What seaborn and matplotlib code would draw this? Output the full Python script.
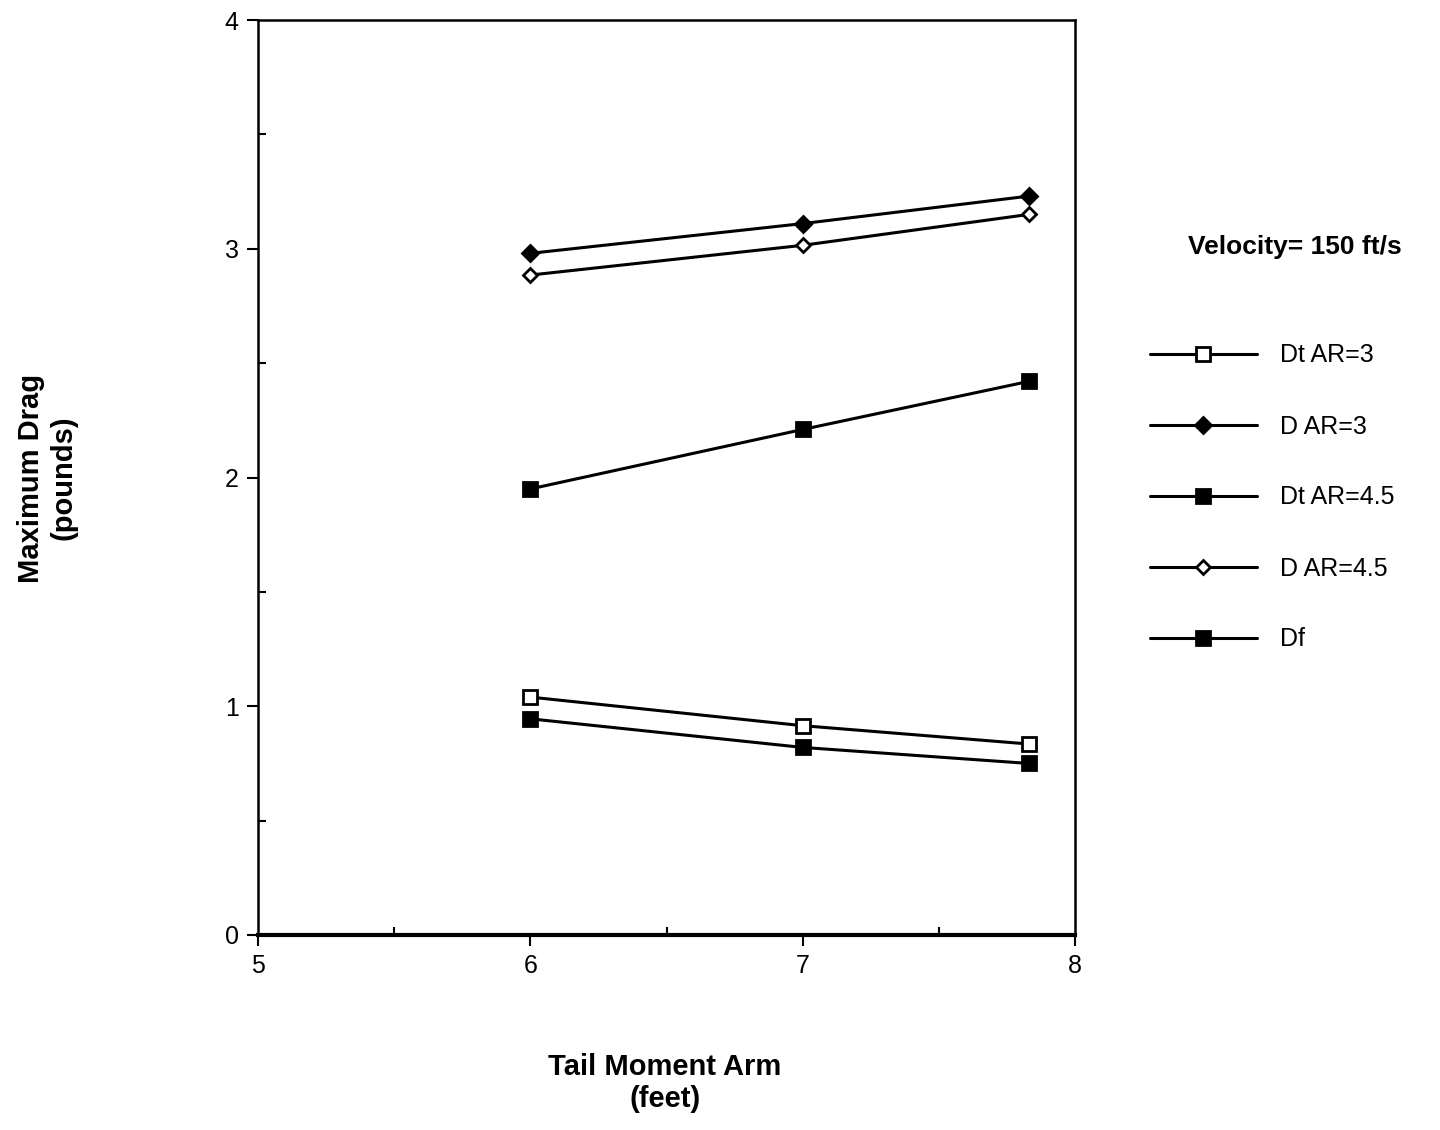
import pandas as pd
import matplotlib
matplotlib.use('Agg')
import matplotlib.pyplot as plt
import seaborn as sns
from matplotlib.ticker import MultipleLocator

tail_arm = [6, 7, 7.83]
dt_ar3 = [1.04, 0.915, 0.835]
d_ar3 = [2.98, 3.11, 3.23]
dt_ar45 = [0.945, 0.82, 0.75]
d_ar45 = [2.885, 3.015, 3.15]
df_drag = [1.95, 2.21, 2.42]

series = ['Dt AR=3', 'D AR=3', 'Dt AR=4.5', 'D AR=4.5', 'Df']
values = [dt_ar3, d_ar3, dt_ar45, d_ar45, df_drag]
markers = {'Dt AR=3': ('s', 'white', 10),
           'D AR=3': ('D', 'black', 8),
           'Dt AR=4.5': ('s', 'black', 10),
           'D AR=4.5': ('D', 'white', 7),
           'Df': ('s', 'black', 10)}

sns.set_style('white')
plt.rcParams['font.family'] = ['Liberation Sans', 'DejaVu Sans']
plt.rcParams['text.color'] = 'black'
plt.rcParams['xtick.color'] = 'black'
plt.rcParams['ytick.color'] = 'black'

fig = plt.figure(figsize=(14.4, 11.3), dpi=100)
ax = fig.add_axes([258 / 1440, 1 - 935 / 1130, 817 / 1440, 915 / 1130])

for name, vals in zip(series, values):
    d = pd.DataFrame({'x': tail_arm, 'y': vals})
    m, fc, ms = markers[name]
    sns.lineplot(data=d, x='x', y='y', ax=ax, color='black', lw=2.2,
                 marker=m, markersize=ms, markerfacecolor=fc,
                 markeredgecolor='black', markeredgewidth=2, label=name)

ax.set_xlim(5, 8)
ax.set_ylim(0, 4)
ax.xaxis.set_major_locator(MultipleLocator(1))
ax.xaxis.set_minor_locator(MultipleLocator(0.5))
ax.yaxis.set_major_locator(MultipleLocator(1))
ax.yaxis.set_minor_locator(MultipleLocator(0.5))
ax.tick_params(which='major', direction='out', length=8, width=1.5,
               labelsize=18, pad=6)
ax.tick_params(which='minor', direction='in', length=6, width=1.5)
ax.tick_params(axis='x', which='both', bottom=True)
ax.tick_params(axis='y', which='both', left=True)
for s in ax.spines.values():
    s.set_color('black')
    s.set_linewidth(1.8)
ax.spines['bottom'].set_linewidth(3)

ax.set_xlabel('')
ax.set_ylabel('')
fig.text(665 / 1440, 1 - 1083 / 1130, 'Tail Moment Arm\n(feet)', ha='center',
         va='center', fontsize=21, fontweight='bold', linespacing=1.2)
fig.text(47 / 1440, 1 - 478 / 1130, 'Maximum Drag\n(pounds)', ha='center',
         va='center', rotation=90, fontsize=21, fontweight='bold', linespacing=1.2)

handles, labels = ax.get_legend_handles_labels()
ax.get_legend().remove()
fig.text(1295 / 1440, 1 - 247 / 1130, 'Velocity= 150 ft/s', ha='center',
         va='center', fontsize=19, fontweight='bold')
fig.legend(handles, labels, loc='upper left',
           bbox_to_anchor=(1127 / 1440, 1 - 321 / 1130), frameon=False,
           fontsize=18, handlelength=4.3, handletextpad=0.9, labelspacing=1.88)

fig.savefig('out.png', dpi=100, facecolor='white')
